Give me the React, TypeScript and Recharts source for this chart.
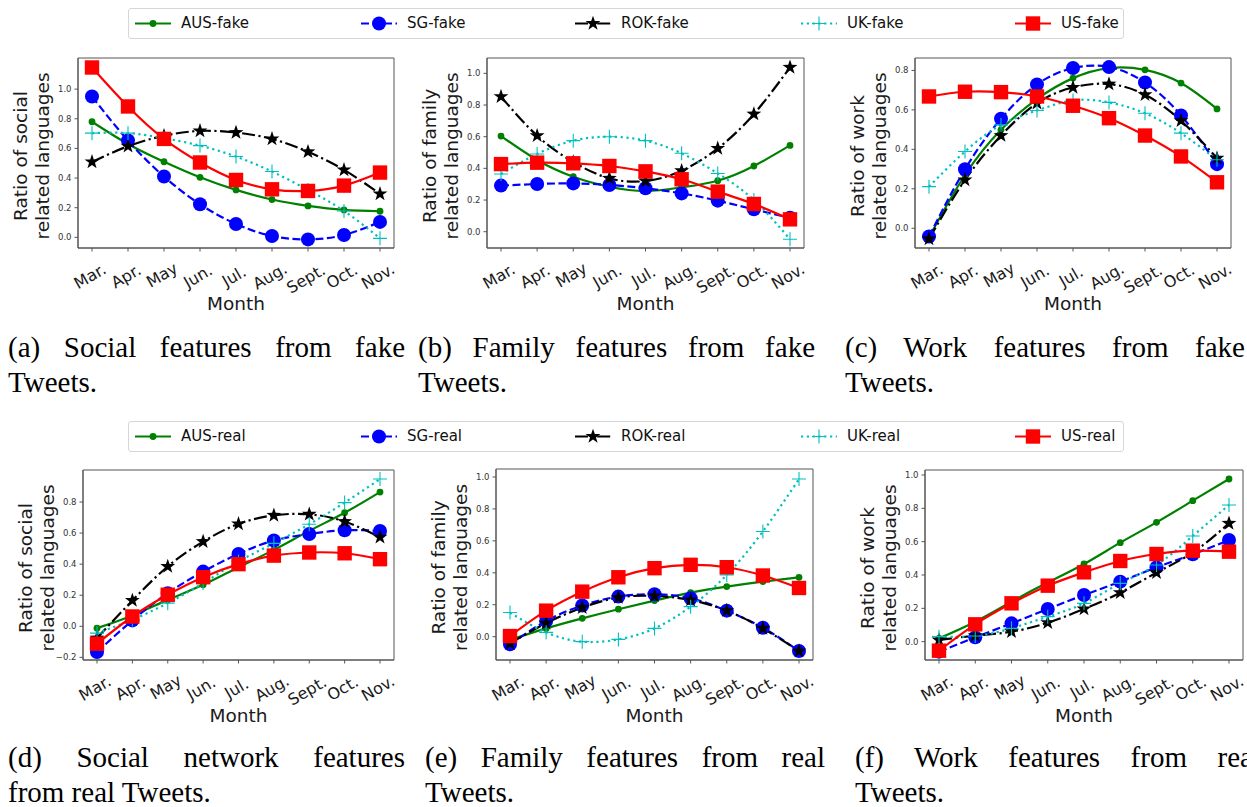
import { CartesianGrid, Line, LineChart, XAxis, YAxis } from "recharts";

const MONTHS = ["Mar.", "Apr.", "May", "Jun.", "Jul.", "Aug.", "Sept.", "Oct.", "Nov."];

// social features, fake tweets
const socialFakeAUS = [0.78, 0.63, 0.51, 0.405, 0.32, 0.255, 0.212, 0.185, 0.176];
const socialFakeSG = [0.95, 0.653, 0.41, 0.223, 0.09, 0.009, -0.014, 0.016, 0.104];
const socialFakeROK = [0.509, 0.615, 0.685, 0.718, 0.707, 0.664, 0.577, 0.455, 0.293];
const socialFakeUK = [0.703, 0.703, 0.669, 0.619, 0.545, 0.444, 0.32, 0.178, -0.007];
const socialFakeUS = [1.146, 0.883, 0.664, 0.505, 0.387, 0.324, 0.313, 0.349, 0.437];

// family features, fake tweets
const familyFakeAUS = [0.604, 0.453, 0.347, 0.284, 0.257, 0.28, 0.322, 0.415, 0.545];
const familyFakeSG = [0.291, 0.301, 0.305, 0.295, 0.274, 0.242, 0.196, 0.141, 0.088];
const familyFakeROK = [0.853, 0.606, 0.44, 0.337, 0.32, 0.385, 0.526, 0.743, 1.038];
const familyFakeUK = [0.364, 0.491, 0.575, 0.6, 0.575, 0.495, 0.368, 0.2, -0.048];
const familyFakeUS = [0.427, 0.436, 0.432, 0.415, 0.381, 0.331, 0.253, 0.175, 0.078];

// work features, fake tweets
const workFakeAUS = [-0.046, 0.27, 0.499, 0.655, 0.761, 0.812, 0.803, 0.736, 0.605];
const workFakeSG = [-0.042, 0.299, 0.555, 0.729, 0.812, 0.817, 0.739, 0.572, 0.325];
const workFakeROK = [-0.054, 0.245, 0.47, 0.634, 0.714, 0.731, 0.677, 0.545, 0.355];
const workFakeUK = [0.211, 0.389, 0.524, 0.597, 0.648, 0.638, 0.583, 0.482, 0.347];
const workFakeUS = [0.668, 0.692, 0.69, 0.668, 0.621, 0.558, 0.47, 0.364, 0.233];

// social network features, real tweets
const socialRealAUS = [-0.012, 0.07, 0.17, 0.267, 0.38, 0.492, 0.614, 0.731, 0.864];
const socialRealSG = [-0.166, 0.038, 0.213, 0.352, 0.466, 0.552, 0.594, 0.618, 0.614];
const socialRealROK = [-0.076, 0.166, 0.385, 0.545, 0.659, 0.714, 0.721, 0.674, 0.573];
const socialRealUK = [-0.044, 0.042, 0.149, 0.278, 0.417, 0.534, 0.657, 0.796, 0.948];
const socialRealUS = [-0.112, 0.063, 0.203, 0.316, 0.4, 0.455, 0.475, 0.47, 0.432];

// family features, real tweets
const familyRealAUS = [-0.02, 0.052, 0.115, 0.172, 0.226, 0.276, 0.314, 0.345, 0.372];
const familyRealSG = [-0.048, 0.098, 0.195, 0.251, 0.266, 0.241, 0.163, 0.056, -0.09];
const familyRealROK = [-0.042, 0.084, 0.182, 0.245, 0.255, 0.23, 0.163, 0.052, -0.09];
const familyRealUK = [0.151, 0.027, -0.031, -0.017, 0.052, 0.188, 0.387, 0.659, 0.987];
const familyRealUS = [0.004, 0.163, 0.282, 0.372, 0.429, 0.45, 0.435, 0.383, 0.305];

// work features, real tweets
const workRealAUS = [0.02, 0.12, 0.24, 0.355, 0.466, 0.594, 0.716, 0.846, 0.976];
const workRealSG = [-0.06, 0.026, 0.11, 0.196, 0.28, 0.36, 0.446, 0.524, 0.61];
const workRealROK = [0.01, 0.036, 0.06, 0.114, 0.196, 0.294, 0.414, 0.535, 0.71];
const workRealUK = [0.03, 0.034, 0.08, 0.15, 0.23, 0.35, 0.46, 0.634, 0.82];
const workRealUS = [-0.054, 0.104, 0.23, 0.336, 0.416, 0.484, 0.526, 0.546, 0.54];

const TICKS_0_10 = [0, 0.2, 0.4, 0.6, 0.8, 1.0];
const TICKS_0_08 = [0, 0.2, 0.4, 0.6, 0.8];
const TICKS_M2_08 = [-0.2, 0, 0.2, 0.4, 0.6, 0.8];

const SANS = "DejaVu Sans";
const SERIF = "Liberation Serif";
const FRAME = "#555";
const YW = 78; // room left of the plot frame for tick labels and the y label
const TOP = 10;
const XH = 70;
const RIGHT = 10;

type Key = "AUS" | "SG" | "ROK" | "UK" | "US";

const STYLE: Record<Key, { color: string; dash?: string }> = {
  AUS: { color: "#008000" },
  SG: { color: "#0000ff", dash: "8 3.5" },
  ROK: { color: "#000000", dash: "13 3.5 2.2 3.5" },
  UK: { color: "#00bfbf", dash: "2.2 3.6" },
  US: { color: "#ff0000" },
};

const ORDER: Key[] = ["AUS", "SG", "ROK", "UK", "US"];

function starPath(cx: number, cy: number, R: number, r: number) {
  let d = "";
  for (let i = 0; i < 10; i++) {
    const rad = i % 2 === 0 ? R : r;
    const a = -Math.PI / 2 + (i * Math.PI) / 5;
    d += `${i === 0 ? "M" : "L"}${cx + rad * Math.cos(a)},${cy + rad * Math.sin(a)}`;
  }
  return d + "Z";
}

function Marker({ k, cx, cy }: { k: Key; cx: number; cy: number }) {
  const c = STYLE[k].color;
  if (k === "AUS") return <circle cx={cx} cy={cy} r={3.4} fill={c} />;
  if (k === "SG") return <circle cx={cx} cy={cy} r={7} fill={c} />;
  if (k === "ROK") return <path d={starPath(cx, cy, 7.8, 3.1)} fill={c} />;
  if (k === "UK")
    return (
      <path
        d={`M${cx - 7},${cy}H${cx + 7}M${cx},${cy - 7}V${cy + 7}`}
        stroke={c}
        strokeWidth={1.1}
      />
    );
  return <rect x={cx - 7.2} y={cy - 7.2} width={14.4} height={14.4} fill={c} />;
}

function MonthTick(props: any) {
  const { x, y, payload } = props;
  const label = String(payload.value);
  const f = 16;
  const w = label.replace(/\./g, "").length * 0.62 * f + (label.includes(".") ? 0.32 * f : 0);
  const h = 0.73 * f;
  const bh = 0.5 * w + 0.866 * h;
  const cx = x - 2;
  const cy = y + 11 + bh / 2;
  return (
    <text
      x={cx}
      y={cy}
      textAnchor="middle"
      dominantBaseline="central"
      fontFamily={SANS}
      fontSize={f}
      fill="#1a1a1a"
      transform={`rotate(-30, ${cx}, ${cy})`}
    >
      {label}
    </text>
  );
}

const fmtY = (v: number) => (v < -1e-9 ? "\u2212" : "") + Math.abs(v).toFixed(1);

type Panel = {
  left: number;
  top: number;
  w: number;
  h: number;
  domain: [number, number];
  ticks: number[];
  label1: string;
  label2: string;
  series: Record<Key, number[]>;
};

function PanelChart({ p }: { p: Panel }) {
  const rows = MONTHS.map((m, i) => ({
    month: m,
    AUS: p.series.AUS[i],
    SG: p.series.SG[i],
    ROK: p.series.ROK[i],
    UK: p.series.UK[i],
    US: p.series.US[i],
  }));
  const width = YW + p.w + RIGHT;
  const height = TOP + p.h + XH;
  return (
    <div style={{ position: "absolute", left: p.left - YW, top: p.top - TOP }}>
      <LineChart
        width={width}
        height={height}
        data={rows}
        margin={{ top: TOP, right: RIGHT, bottom: 0, left: 0 }}
      >
        {/* the four sides of the axes box */}
        <CartesianGrid
          stroke={FRAME}
          strokeWidth={1}
          horizontalCoordinatesGenerator={() => [TOP, TOP + p.h]}
          verticalCoordinatesGenerator={() => [YW, YW + p.w]}
        />
        <XAxis
          dataKey="month"
          interval={0}
          padding={{ left: 14, right: 14 }}
          height={XH}
          tickSize={3.5}
          tickMargin={0}
          tickLine={{ stroke: FRAME }}
          axisLine={{ stroke: FRAME }}
          tick={MonthTick}
          label={(lp: any) => {
            const vb = lp.viewBox;
            return (
              <text
                x={vb.x + vb.width / 2}
                y={vb.y + 55}
                textAnchor="middle"
                dominantBaseline="central"
                fontFamily={SANS}
                fontSize={18.5}
                fill="#1a1a1a"
              >
                Month
              </text>
            );
          }}
        />
        <YAxis
          type="number"
          domain={p.domain}
          ticks={p.ticks}
          allowDataOverflow
          width={YW}
          tickSize={3.5}
          tickMargin={3}
          tickLine={{ stroke: FRAME }}
          axisLine={{ stroke: FRAME }}
          tickFormatter={fmtY}
          tick={{ fontFamily: SANS, fontSize: 8.5, fill: "#333" }}
          label={(lp: any) => {
            const vb = lp.viewBox;
            const cy = vb.y + vb.height / 2 + 3;
            const x1 = vb.x + vb.width - 51;
            const x2 = vb.x + vb.width - 29;
            return (
              <g fontFamily={SANS} fontSize={18.5} fill="#1a1a1a" textAnchor="middle">
                <text x={x1} y={cy} transform={`rotate(-90, ${x1}, ${cy})`}>
                  {p.label1}
                </text>
                <text x={x2} y={cy} transform={`rotate(-90, ${x2}, ${cy})`}>
                  {p.label2}
                </text>
              </g>
            );
          }}
        />
        {ORDER.map((k) => (
          <Line
            key={k}
            type="natural"
            dataKey={k}
            stroke={STYLE[k].color}
            strokeWidth={2.2}
            strokeDasharray={STYLE[k].dash}
            isAnimationActive={false}
            activeDot={false}
            dot={(dp: any) => <Marker key={`${k}-${dp.index}`} k={k} cx={dp.cx} cy={dp.cy} />}
          />
        ))}
      </LineChart>
    </div>
  );
}

const PANELS: Panel[] = [
  {
    left: 78, top: 58, w: 316, h: 190, domain: [-0.072, 1.21], ticks: TICKS_0_10,
    label1: "Ratio of social", label2: "related languages",
    series: { AUS: socialFakeAUS, SG: socialFakeSG, ROK: socialFakeROK, UK: socialFakeUK, US: socialFakeUS },
  },
  {
    left: 487, top: 58, w: 317, h: 190, domain: [-0.103, 1.097], ticks: TICKS_0_10,
    label1: "Ratio of family", label2: "related languages",
    series: { AUS: familyFakeAUS, SG: familyFakeSG, ROK: familyFakeROK, UK: familyFakeUK, US: familyFakeUS },
  },
  {
    left: 915, top: 58, w: 316, h: 190, domain: [-0.1, 0.863], ticks: TICKS_0_08,
    label1: "Ratio of work", label2: "related languages",
    series: { AUS: workFakeAUS, SG: workFakeSG, ROK: workFakeROK, UK: workFakeUK, US: workFakeUS },
  },
  {
    left: 83, top: 470, w: 311, h: 190, domain: [-0.217, 1.006], ticks: TICKS_M2_08,
    label1: "Ratio of social", label2: "related languages",
    series: { AUS: socialRealAUS, SG: socialRealSG, ROK: socialRealROK, UK: socialRealUK, US: socialRealUS },
  },
  {
    left: 496, top: 469, w: 317, h: 191, domain: [-0.146, 1.05], ticks: TICKS_0_10,
    label1: "Ratio of family", label2: "related languages",
    series: { AUS: familyRealAUS, SG: familyRealSG, ROK: familyRealROK, UK: familyRealUK, US: familyRealUS },
  },
  {
    left: 925, top: 470, w: 318, h: 190, domain: [-0.11, 1.03], ticks: TICKS_0_10,
    label1: "Ratio of work", label2: "related languages",
    series: { AUS: workRealAUS, SG: workRealSG, ROK: workRealROK, UK: workRealUK, US: workRealUS },
  },
];

const LEGEND_X = [6, 232, 446, 672, 886];

function FigLegend({ top, suffix }: { top: number; suffix: string }) {
  return (
    <div
      style={{
        position: "absolute",
        left: 128,
        top,
        width: 994,
        height: 29,
        border: "1px solid #d6d6d6",
        borderRadius: 3,
        background: "#fff",
      }}
    >
      {ORDER.map((k, i) => (
        <div key={k} style={{ position: "absolute", left: LEGEND_X[i], top: 0, height: 29 }}>
          <svg width={36} height={29} style={{ position: "absolute", left: 0, top: 0 }}>
            <line
              x1={0}
              y1={14.5}
              x2={36}
              y2={14.5}
              stroke={STYLE[k].color}
              strokeWidth={2.2}
              strokeDasharray={STYLE[k].dash}
            />
            <Marker k={k} cx={18} cy={14.5} />
          </svg>
          <span
            style={{
              position: "absolute",
              left: 46,
              top: 0,
              lineHeight: "29px",
              fontFamily: SANS,
              fontSize: 15,
              color: "#111",
              whiteSpace: "nowrap",
            }}
          >
            {k}-{suffix}
          </span>
        </div>
      ))}
    </div>
  );
}

const CAPTIONS = [
  { left: 8, top: 330, width: 397, first: "(a) Social features from fake", rest: "Tweets." },
  { left: 418, top: 330, width: 397, first: "(b) Family features from fake", rest: "Tweets." },
  { left: 845, top: 330, width: 400, first: "(c) Work features from fake", rest: "Tweets." },
  { left: 8, top: 740, width: 397, first: "(d) Social network features", rest: "from real Tweets." },
  { left: 425, top: 740, width: 400, first: "(e) Family features from real", rest: "Tweets." },
  { left: 855, top: 740, width: 406, first: "(f) Work features from real", rest: "Tweets." },
];

function Caption({ c }: { c: (typeof CAPTIONS)[number] }) {
  const line = { fontFamily: SERIF, fontSize: 29, lineHeight: "35px", color: "#000", whiteSpace: "nowrap" as const };
  return (
    <div style={{ position: "absolute", left: c.left, top: c.top, width: c.width }}>
      <div style={{ ...line, whiteSpace: "normal", textAlign: "justify", textAlignLast: "justify" }}>{c.first}</div>
      <div style={line}>{c.rest}</div>
    </div>
  );
}

export default function App() {
  return (
    <div
      style={{
        position: "absolute",
        left: 0,
        top: 0,
        width: 1247,
        height: 807,
        overflow: "hidden",
        background: "#fff",
      }}
    >
      <FigLegend top={8} suffix="fake" />
      <FigLegend top={421} suffix="real" />
      {PANELS.map((p, i) => (
        <PanelChart key={i} p={p} />
      ))}
      {CAPTIONS.map((c, i) => (
        <Caption key={i} c={c} />
      ))}
    </div>
  );
}
